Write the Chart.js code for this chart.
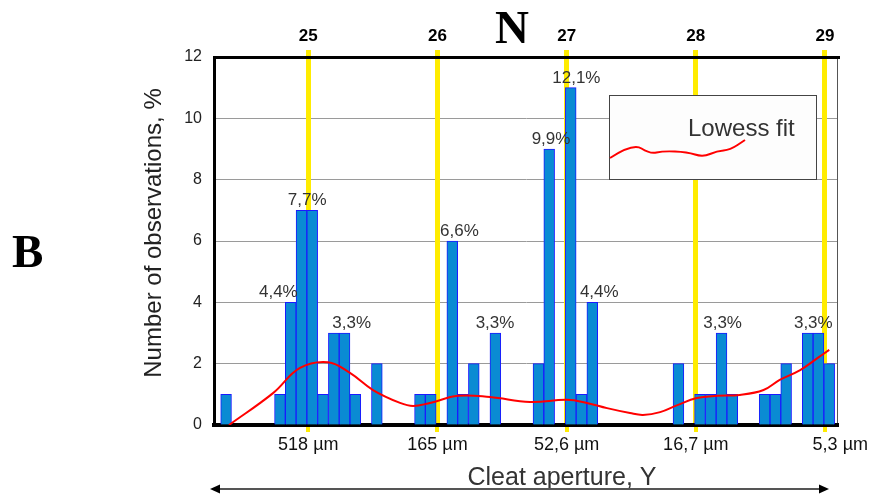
<!DOCTYPE html>
<html>
<head>
<meta charset="utf-8">
<script src="https://cdn.jsdelivr.net/npm/chart.js@4.4.1/dist/chart.umd.min.js"></script>
<style>
  html, body { margin: 0; padding: 0; background: #fff; }
</style>
</head>
<body>
<canvas id="chart" width="872" height="500"></canvas>
<script>
// histogram of cleat aperture, 57 classes, counts (n = 91)
const counts = [1,0,0,0,0, 1,4,7,7,1, 3,3,1,0,2, 0,0,0,1,1, 0,6,1,2,0, 3,0,0,0,2,
                9,0,11,1,4, 0,0,0,0,0, 0,0,2,0,1, 1,3,1,0,0, 1,1,2,0,3, 3,2];

// lowess curve, x in class units
const lowessX = [0.77, 4.86, 7.36, 9.96, 12.0, 14.14, 16.65, 17.86, 19.43, 22.03, 25.0, 28.72,
                 32.15, 34.0, 35.87, 38.0, 39.2, 40.8, 42.4, 44.2, 46.1, 48.2, 50.4, 51.9, 53.8, 55.4, 56.5];
const lowessY = [0, 1.04, 1.86, 2.05, 1.70, 1.14, 0.72, 0.62, 0.72, 0.95, 0.91, 0.75,
                 0.82, 0.72, 0.55, 0.39, 0.33, 0.42, 0.65, 0.88, 0.95, 0.98, 1.14, 1.47, 1.79, 2.18, 2.45];

// percentage annotations
const labelText = ['4,4%', '7,7%', '3,3%', '6,6%', '3,3%', '9,9%', '12,1%', '4,4%', '3,3%', '3,3%'];
const labelX = [5.35, 8.03, 12.16, 22.17, 25.47, 30.67, 33.02, 35.15, 46.6, 55.02];
const labelY = [4, 7, 3, 6, 3, 9, 11, 4, 3, 3];

// top axis N and matching aperture values
const nMin = 24.27, nMax = 29.093;
const apertureLabels = ['518 µm', '165 µm', '52,6 µm', '16,7 µm', '5,3 µm'];

const FONT = "'Liberation Sans', Arial, sans-serif";
const SERIF = "'Liberation Serif', 'Times New Roman', serif";

const binData = counts.map((c, i) => ({ x: i + 0.5, y: c === 0 ? null : c }));
const lowessData = lowessX.map((x, i) => ({ x: x, y: lowessY[i] }));

const decor = {
  id: 'decor',
  afterDatasetsDraw(chart) {
    const ctx = chart.ctx, xs = chart.scales.x, ys = chart.scales.y;
    ctx.save();
    ctx.font = '17px ' + FONT;
    ctx.fillStyle = '#333';
    ctx.textAlign = 'center';
    ctx.textBaseline = 'alphabetic';
    labelText.forEach((t, i) => {
      ctx.fillText(t, xs.getPixelForValue(labelX[i]), ys.getPixelForValue(labelY[i]) - 5);
    });
    ctx.restore();
  },
  afterDraw(chart) {
    const ctx = chart.ctx, ca = chart.chartArea;
    ctx.save();

    // legend box
    const bx = ca.left + 395, by = ca.top + 38, bw = 207, bh = 84;
    ctx.fillStyle = '#fdfdfd';
    ctx.fillRect(bx, by, bw, bh);
    ctx.strokeStyle = '#444';
    ctx.lineWidth = 1;
    ctx.strokeRect(bx + 0.5, by + 0.5, bw, bh);
    ctx.font = '24px ' + FONT;
    ctx.fillStyle = '#333';
    ctx.textAlign = 'left';
    ctx.fillText('Lowess fit', bx + 79, by + 41);
    // hand-drawn looking swatch, smoothed through midpoints
    const sw = [[1,63],[24,48],[41,59],[54,56],[78,57],[94,62],[108,56],[121,55],[136,45]];
    ctx.strokeStyle = '#f00';
    ctx.lineWidth = 2;
    ctx.lineJoin = 'round';
    ctx.beginPath();
    ctx.moveTo(bx + sw[0][0], by + sw[0][1]);
    for (let i = 1; i < sw.length - 1; i++) {
      const mx = (sw[i][0] + sw[i + 1][0]) / 2, my = (sw[i][1] + sw[i + 1][1]) / 2;
      ctx.quadraticCurveTo(bx + sw[i][0], by + sw[i][1], bx + mx, by + my);
    }
    ctx.lineTo(bx + sw[sw.length - 1][0], by + sw[sw.length - 1][1]);
    ctx.stroke();

    // N and B
    ctx.fillStyle = '#000';
    ctx.font = 'bold 47px ' + SERIF;
    ctx.textAlign = 'center';
    ctx.fillText('N', 512, 43);
    ctx.textAlign = 'left';
    ctx.fillText('B', 12, 267);

    // y title
    ctx.save();
    ctx.translate(154, 233);
    ctx.rotate(-Math.PI / 2);
    ctx.font = '24px ' + FONT;
    ctx.fillStyle = '#222';
    ctx.textAlign = 'center';
    ctx.textBaseline = 'middle';
    ctx.fillText('Number of observations, %', 0, 0);
    ctx.restore();

    // bottom aperture labels (last one pushed to the right edge)
    const x3 = chart.scales.x3;
    ctx.font = '18px ' + FONT;
    ctx.fillStyle = '#111';
    ctx.textAlign = 'left';
    x3.ticks.forEach((t, i) => {
      const txt = apertureLabels[i];
      const w = ctx.measureText(txt).width;
      let left = x3.getPixelForValue(t.value) - w / 2;
      if (i === x3.ticks.length - 1) left = chart.width - 4 - w;
      ctx.fillText(txt, left, 450);
    });

    // x title
    ctx.font = '25px ' + FONT;
    ctx.fillStyle = '#333';
    ctx.textAlign = 'center';
    ctx.fillText('Cleat aperture, Y', 562, 485);

    // double arrow
    const ay = 489, ax1 = ca.left - 4, ax2 = ca.right - 8;
    ctx.strokeStyle = '#555';
    ctx.lineWidth = 2;
    ctx.beginPath();
    ctx.moveTo(ax1 + 6, ay);
    ctx.lineTo(ax2 - 6, ay);
    ctx.stroke();
    ctx.fillStyle = '#000';
    ctx.beginPath();
    ctx.moveTo(ax1, ay); ctx.lineTo(ax1 + 10, ay - 4.5); ctx.lineTo(ax1 + 10, ay + 4.5); ctx.closePath();
    ctx.fill();
    ctx.beginPath();
    ctx.moveTo(ax2, ay); ctx.lineTo(ax2 - 10, ay - 4.5); ctx.lineTo(ax2 - 10, ay + 4.5); ctx.closePath();
    ctx.fill();

    ctx.restore();
  }
};

new Chart(document.getElementById('chart'), {
  type: 'bar',
  data: {
    datasets: [
      {
        type: 'line',
        label: 'Lowess fit',
        data: lowessData,
        xAxisID: 'x',
        yAxisID: 'y',
        borderColor: '#ff0000',
        borderWidth: 2,
        pointRadius: 0,
        tension: 0.4,
        fill: false,
        order: 0
      },
      {
        type: 'bar',
        label: 'Observations',
        data: binData,
        xAxisID: 'x',
        yAxisID: 'y',
        backgroundColor: '#0a8bd3',
        borderColor: '#1a1aff',
        borderWidth: 1,
        barPercentage: 1,
        categoryPercentage: 1,
        order: 1
      }
    ]
  },
  options: {
    responsive: false,
    animation: false,
    devicePixelRatio: 1,
    layout: { padding: 0 },
    plugins: { legend: { display: false }, tooltip: { enabled: false } },
    scales: {
      x: {
        type: 'linear', min: -0.622, max: 57.22, display: false, offset: false,
        grid: { offset: false }
      },
      y: {
        type: 'linear', position: 'left', min: 0, max: 12,
        ticks: { stepSize: 2, font: { family: FONT, size: 16 }, color: '#222', padding: 12 },
        grid: { color: '#9a9a9a', lineWidth: 1, drawTicks: false },
        border: { color: '#000', width: 3 },
        afterFit(s) { s.width = 214; }
      },
      y2: {
        type: 'linear', position: 'right', min: 0, max: 12,
        ticks: { display: false },
        grid: { display: false },
        border: { color: '#555', width: 1 },
        afterFit(s) { s.width = 35; }
      },
      x2: {
        type: 'linear', position: 'top', min: nMin, max: nMax, offset: false,
        ticks: { stepSize: 1, includeBounds: false, font: { family: FONT, size: 17, weight: 'bold' }, color: '#000', padding: 3 },
        grid: { color: '#ffec00', lineWidth: 5, tickLength: 7, offset: false },
        border: { color: '#000', width: 3 },
        afterFit(s) { s.height = 57; }
      },
      x3: {
        type: 'linear', position: 'bottom', min: nMin, max: nMax, offset: false,
        ticks: { stepSize: 1, includeBounds: false, display: false },
        grid: { color: '#ffec00', lineWidth: 4, tickLength: 7, drawOnChartArea: false, offset: false },
        border: { color: '#000', width: 4 },
        afterFit(s) { s.height = 75; }
      }
    }
  },
  plugins: [decor]
});
</script>
</body>
</html>
